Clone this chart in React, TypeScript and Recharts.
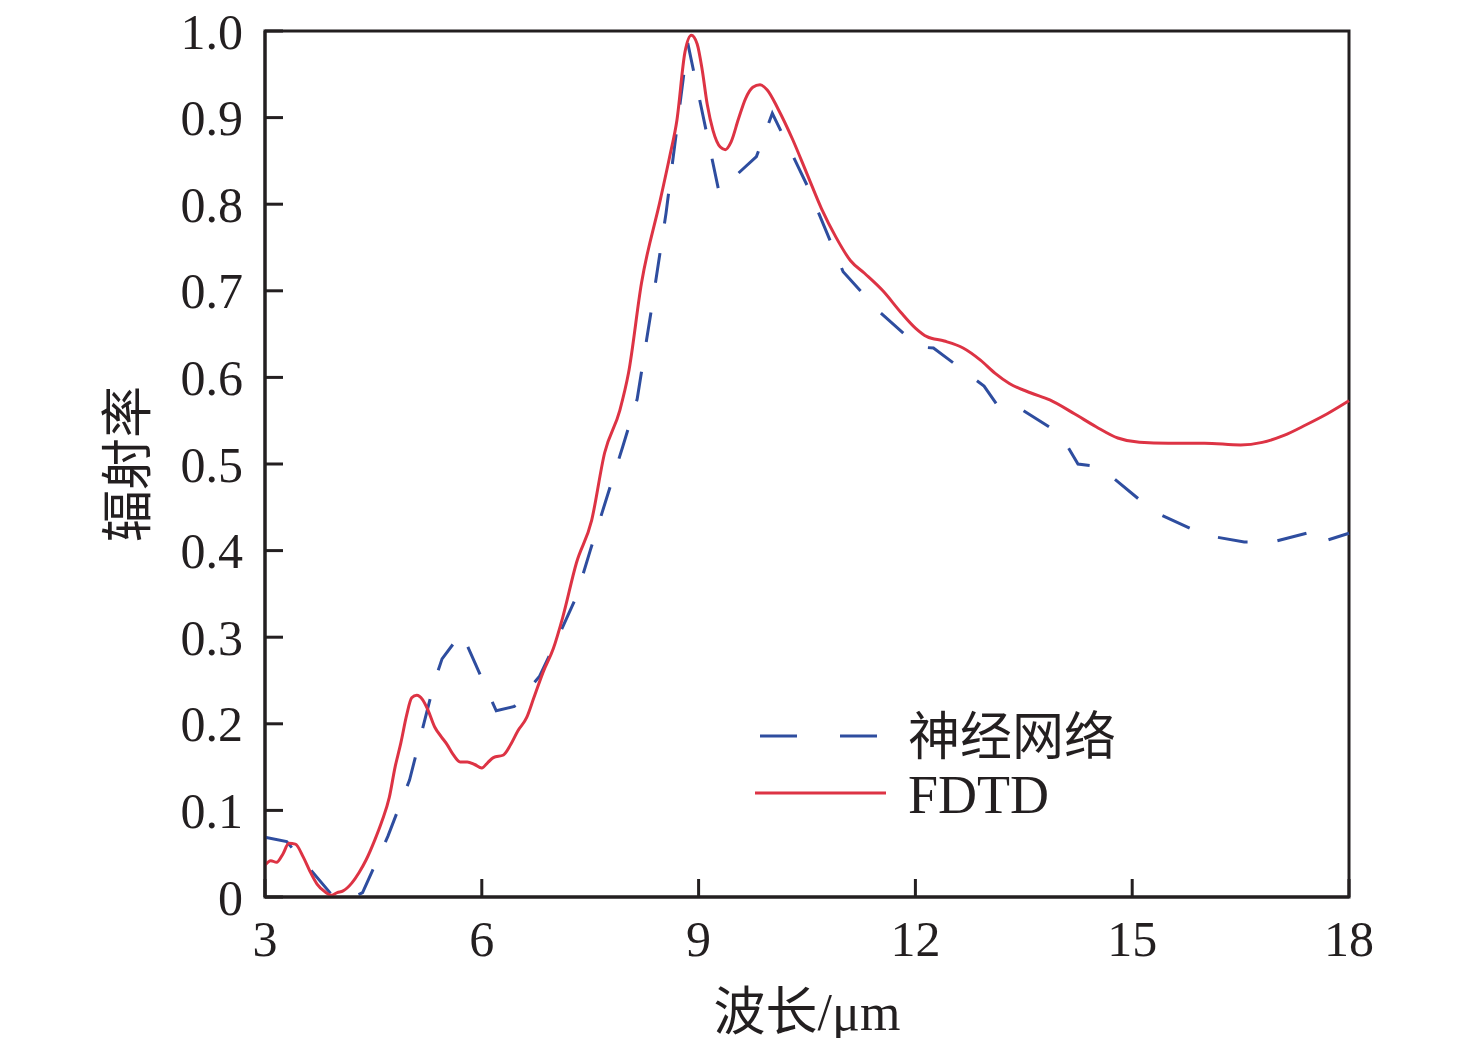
import { LineChart, Line, XAxis, YAxis, ReferenceArea, Label } from 'recharts';

// FDTD simulation (solid red)
const fdtdWavelength = [
  3.0, 3.08, 3.16, 3.25, 3.33, 3.42, 3.53, 3.62, 3.72, 3.83, 3.92, 4.0, 4.08, 4.2, 4.3, 4.4,
  4.52, 4.62, 4.72, 4.8, 4.88, 4.96, 5.03, 5.1, 5.18, 5.26, 5.35, 5.44, 5.52, 5.6, 5.7, 5.8,
  5.9, 6.0, 6.08, 6.16, 6.3, 6.4, 6.5, 6.62, 6.72, 6.85, 6.99, 7.12, 7.31, 7.52, 7.7, 7.91,
  8.03, 8.21, 8.47, 8.6, 8.7, 8.81, 8.9, 8.98, 9.05, 9.12, 9.2, 9.3, 9.37, 9.45, 9.55, 9.65,
  9.75, 9.85, 9.95, 10.1, 10.3, 10.5, 10.7, 10.9, 11.1, 11.3, 11.55, 11.8, 12.0, 12.16, 12.4,
  12.66, 12.9, 13.1, 13.3, 13.6, 13.86, 14.2, 14.5, 14.8, 15.1, 15.5, 16.0, 16.5, 16.8, 17.1,
  17.4, 17.7, 18.0,
];
const fdtdEmissivity = [
  0.037, 0.042, 0.04, 0.05, 0.062, 0.061, 0.046, 0.03, 0.015, 0.006, 0.002, 0.005, 0.007, 0.016, 0.028, 0.043,
  0.066, 0.088, 0.115, 0.15, 0.178, 0.21, 0.23, 0.233, 0.228, 0.215, 0.196, 0.185, 0.176, 0.165, 0.156, 0.156,
  0.153, 0.149, 0.155, 0.161, 0.164, 0.176, 0.192, 0.207, 0.23, 0.26, 0.287, 0.323, 0.386, 0.435, 0.513, 0.562,
  0.605, 0.709, 0.805, 0.855, 0.897, 0.975, 0.995, 0.985, 0.955, 0.915, 0.885, 0.866, 0.863, 0.872, 0.898, 0.922,
  0.935, 0.938, 0.932, 0.91, 0.875, 0.835, 0.795, 0.762, 0.735, 0.72, 0.7, 0.675, 0.657, 0.647, 0.642,
  0.634, 0.62, 0.605, 0.593, 0.582, 0.574, 0.558, 0.543, 0.53, 0.525, 0.524, 0.524, 0.522, 0.525, 0.533,
  0.545, 0.558, 0.573,
];

// 神经网络 prediction (dashed blue)
const nnWavelength = [
  3.0, 3.3, 3.95, 4.25, 4.35, 4.7, 5.0, 5.35, 5.45, 5.72, 6.2, 6.45, 6.8, 7.0, 7.3, 7.5, 7.95,
  8.15, 8.35, 8.55, 8.85, 9.28, 9.8, 10.02, 10.5, 11.0, 11.5, 12.05, 12.25, 12.95, 13.15, 13.45,
  14.0, 14.25, 14.55, 15.3, 16.0, 16.55, 16.95, 17.55, 17.62, 18.0,
];
const nnEmissivity = [
  0.069, 0.064, 0.0, 0.001, 0.005, 0.07, 0.135, 0.25, 0.275, 0.305, 0.215, 0.22, 0.255, 0.29, 0.345, 0.4, 0.52,
  0.575, 0.68, 0.79, 0.986, 0.815, 0.855, 0.905, 0.822, 0.722, 0.676, 0.635, 0.634, 0.59, 0.566, 0.564,
  0.535, 0.5, 0.497, 0.445, 0.418, 0.41, 0.41, 0.423, 0.41, 0.42,
];

const xTicks = [3, 6, 9, 12, 15, 18];
const yTicks = [0, 0.1, 0.2, 0.3, 0.4, 0.5, 0.6, 0.7, 0.8, 0.9, 1.0];

const fdtdData = fdtdWavelength.map((x, i) => ({ x, y: fdtdEmissivity[i] }));
const nnData = nnWavelength.map((x, i) => ({ x, y: nnEmissivity[i] }));

const INK = '#231f20';
const BLUE = '#2e4d9f';
const RED = '#dd3344';
const FONT = "'Liberation Serif', 'Times New Roman', 'Noto Sans CJK SC', serif";
const TICK_MARGIN_X = 23;
const TICK_MARGIN_Y = 22;
const TICK_LEN = 18;

const XTick = ({ x, y, payload }: any) => (
  <g>
    <line x1={x} x2={x} y1={y - TICK_MARGIN_X} y2={y - TICK_MARGIN_X - TICK_LEN} stroke={INK} strokeWidth={3} />
    <text x={x} y={y} dy="0.71em" textAnchor="middle" fill={INK} fontSize={50} fontFamily={FONT}>
      {payload.value}
    </text>
  </g>
);

const YTick = ({ x, y, payload }: any) => (
  <g>
    <line x1={x + TICK_MARGIN_Y} x2={x + TICK_MARGIN_Y + TICK_LEN} y1={y} y2={y} stroke={INK} strokeWidth={3} />
    <text x={x} y={y} dy="0.35em" textAnchor="end" fill={INK} fontSize={50} fontFamily={FONT}>
      {payload.value === 0 ? '0' : payload.value.toFixed(1)}
    </text>
  </g>
);

const LegendBox = () => (
  <svg width={400} height={130} style={{ position: 'absolute', left: 732, top: 692 }}>
    <line x1={20} x2={138} y1={36} y2={36} stroke={BLUE} strokeWidth={3} strokeDasharray="37 43" />
    <text x={168} y={37} dominantBaseline="central" fill={INK} fontSize={52} fontFamily={FONT}>神经网络</text>
    <line x1={15} x2={146} y1={93} y2={93} stroke={RED} strokeWidth={3} />
    <text x={168} y={95} dominantBaseline="central" fill={INK} fontSize={54} fontFamily={FONT}>FDTD</text>
  </svg>
);

export default function App() {
  return (
    <div style={{ position: 'relative', width: 1460, height: 1030 }}>
      <LineChart width={1460} height={1030} margin={{ top: 23, right: 119, bottom: 3, left: 137 }}>
        <XAxis
          dataKey="x"
          type="number"
          domain={[3, 18]}
          ticks={xTicks}
          allowDuplicatedCategory={false}
          height={138}
          tickSize={0}
          tickMargin={TICK_MARGIN_X}
          tick={<XTick />}
          axisLine={{ stroke: INK, strokeWidth: 3 }}
        >
          <Label
            content={({ viewBox }: any) => (
              <text
                x={viewBox.x + viewBox.width / 2}
                y={viewBox.y + 115}
                textAnchor="middle"
                dominantBaseline="central"
                fill={INK}
                fontSize={52}
                fontFamily={FONT}
              >
                波长/μm
              </text>
            )}
          />
        </XAxis>
        <YAxis
          type="number"
          domain={[0, 1]}
          ticks={yTicks}
          width={120}
          tickSize={0}
          tickMargin={TICK_MARGIN_Y}
          tick={<YTick />}
          axisLine={{ stroke: INK, strokeWidth: 3 }}
        >
          <Label
            content={({ viewBox }: any) => {
              const cx = 120;
              const cy = viewBox.y + viewBox.height / 2;
              return (
                <text
                  x={cx}
                  y={cy}
                  transform={`rotate(-90, ${cx}, ${cy})`}
                  textAnchor="middle"
                  dominantBaseline="central"
                  fill={INK}
                  fontSize={52}
                  fontFamily={FONT}
                >
                  辐射率
                </text>
              );
            }}
          />
        </YAxis>
        <ReferenceArea x1={3} x2={18} y1={0} y2={1} fill="none" stroke={INK} strokeWidth={3} />
        <Line
          data={nnData}
          dataKey="y"
          type="linear"
          stroke={BLUE}
          strokeWidth={3}
          strokeDasharray="30 30"
          dot={false}
          activeDot={false}
          isAnimationActive={false}
        />
        <Line
          data={fdtdData}
          dataKey="y"
          type="monotone"
          stroke={RED}
          strokeWidth={3}
          dot={false}
          activeDot={false}
          isAnimationActive={false}
        />
      </LineChart>
      <LegendBox />
    </div>
  );
}
